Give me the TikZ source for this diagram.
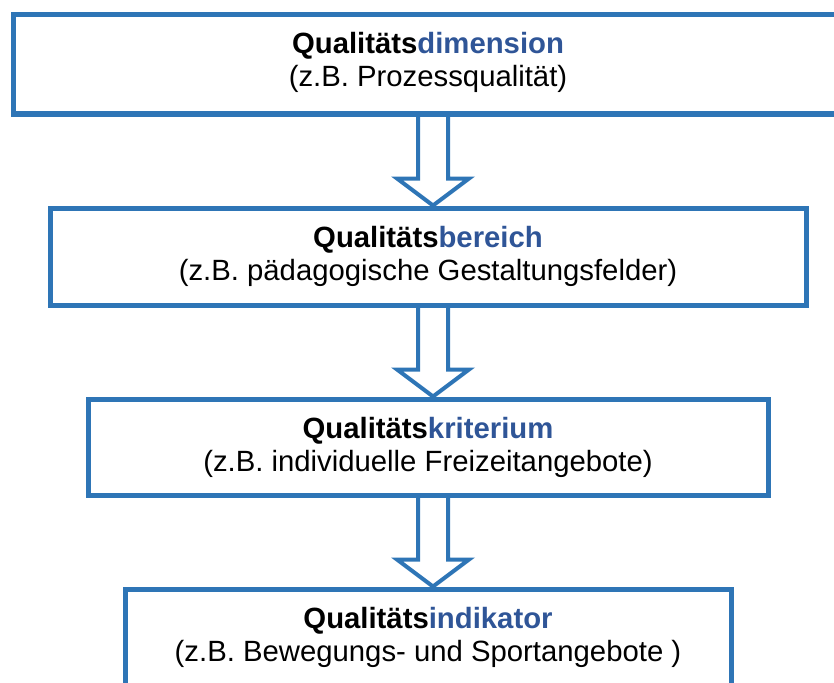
\documentclass[tikz,border=0pt]{standalone}
\usepackage{fontspec}
\setmainfont{Liberation Sans}
\usepackage{tikz}
\usetikzlibrary{positioning}
\usetikzlibrary{backgrounds}
\usetikzlibrary{calc}

\definecolor{qblue}{HTML}{2E75B6}
\definecolor{qtext}{HTML}{2F5597}

\tikzset{
	qbox/.style = {draw = qblue, line width = 5pt, rectangle, align = center, minimum height = 97pt,
		inner sep = 0pt, font = \fontsize{29.3pt}{33pt}\selectfont},
	hollow/.style = {draw = qblue, line width = 4pt, line join = miter}
}

\newcommand{\qtitle}[1]{\textbf{Qualitäts\textcolor{qtext}{#1}}}

% hollow arrow from the bottom of one box to the top of the next
\newcommand{\hollowdown}[2]{%
	\draw[hollow] ($ (#1.south) + (-10,0) $) -- ($ (#2.north) + (-10,-27) $) -- ($ (#2.north) + (-31,-27) $)
		-- ($ (#2.north) + (5,0) $) -- ($ (#2.north) + (41,-27) $) -- ($ (#2.north) + (20,-27) $)
		-- ($ (#1.south) + (20,0) $);
}

\begin{document}
\begin{tikzpicture}[x = 1pt, y = -1pt]
		\useasboundingbox (0,0) rectangle (834,682);
		\clip (0,0) rectangle (834,682);

		\node[qbox, minimum width = 830pt, minimum height = 99pt, text depth = 10pt] at (428,64.5) (dim)
		{\qtitle{dimension}\\(z.B. Prozessqualität)};

		\node[qbox, minimum width = 756pt] at (428,256.5) (ber)
		{\qtitle{bereich}\\(z.B. pädagogische Gestaltungsfelder)};

		\node[qbox, minimum width = 680pt, minimum height = 96pt] at (428,447) (krit)
		{\qtitle{kriterium}\\(z.B. individuelle Freizeitangebote)};

		\node[qbox, minimum width = 606pt] at (428,637.5) (ind)
		{\qtitle{indikator}\\(z.B. Bewegungs- und Sportangebote )};

		\begin{scope}[on background layer]
			\hollowdown{dim}{ber}
			\hollowdown{ber}{krit}
			\hollowdown{krit}{ind}
		\end{scope}
	\end{tikzpicture}
\end{document}
